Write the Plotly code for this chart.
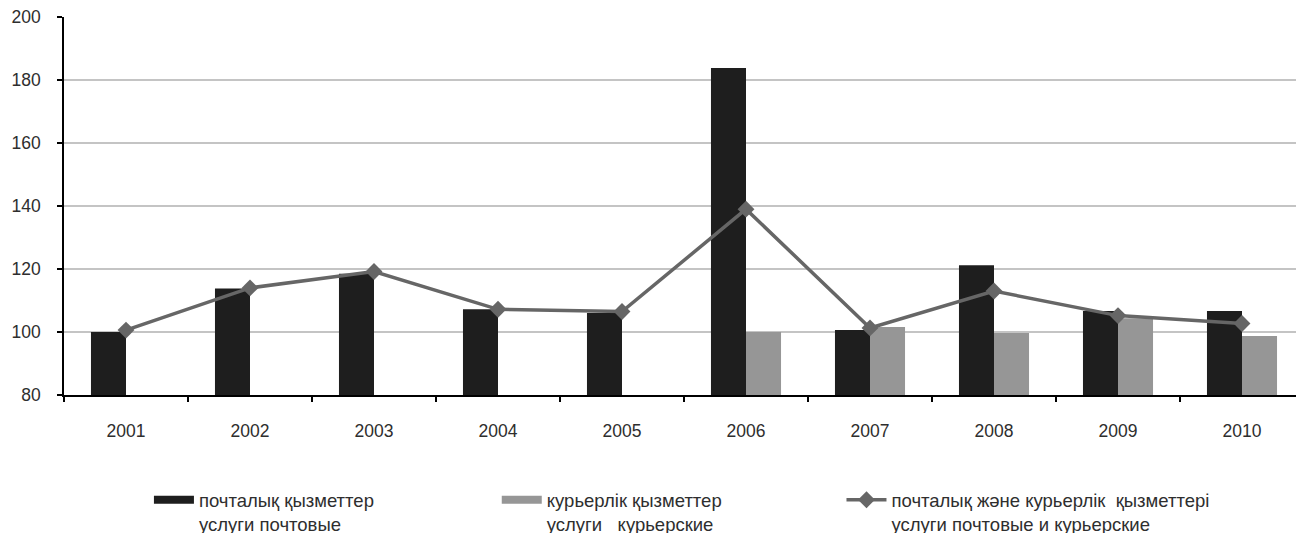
import plotly.graph_objects as go

years = ["2001", "2002", "2003", "2004", "2005", "2006", "2007", "2008", "2009", "2010"]
postal = [100.0, 113.8, 118.5, 107.2, 106.0, 183.8, 100.6, 121.2, 106.7, 106.7]
courier = [None, None, None, None, None, 100.0, 101.6, 99.7, 104.4, 98.7]
combined = [100.6, 114.0, 119.2, 107.2, 106.5, 139.0, 101.3, 113.0, 105.2, 102.7]

names = [
    "почталық қызметтер<br>услуги почтовые",
    "курьерлік қызметтер<br>услуги   курьерские",
    "почталық және курьерлік  қызметтері<br>услуги почтовые и курьерские",
]
colors = ["#1e1e1e", "#969696", "#666666"]

font = "Liberation Sans, Arial, sans-serif"
legend_ids = ["legend", "legend2", "legend3"]

fig = go.Figure()
fig.add_trace(go.Bar(x=years, y=postal, name=names[0], showlegend=False,
                     marker=dict(color=colors[0], line=dict(width=0))))
fig.add_trace(go.Bar(x=years, y=courier, name=names[1], showlegend=False,
                     marker=dict(color=colors[1], line=dict(width=0))))
# legend swatches (wide flat rectangles like the original)
for i in range(2):
    fig.add_trace(go.Scatter(x=[None], y=[None], name=names[i], mode="lines",
                             line=dict(color=colors[i], width=8), legend=legend_ids[i],
                             hoverinfo="skip"))
fig.add_trace(go.Scatter(x=years, y=combined, name=names[2], mode="lines+markers",
                         line=dict(color=colors[2], width=3.5), legend=legend_ids[2],
                         marker=dict(symbol="diamond", size=13, color=colors[2])))

# page body has an 8px default margin: offset the margins to compensate
legend_style = dict(orientation="h", xanchor="left", y=-0.228, yanchor="top",
                    font=dict(family=font, size=18.5, color="#2e2e2e"),
                    valign="top", itemwidth=40, bgcolor="rgba(0,0,0,0)")
fig.update_layout(
    width=1304, height=533,
    margin=dict(l=56, r=8, t=9, b=146, autoexpand=False),
    plot_bgcolor="white", paper_bgcolor="white",
    barmode="group", bargap=0.435, bargroupgap=0,
    font=dict(family=font, size=17.5, color="#2e2e2e"),
    showlegend=True,
    legend=dict(x=0.0685, **legend_style),
    legend2=dict(x=0.349, **legend_style),
    legend3=dict(x=0.627, **legend_style),
)
fig.update_xaxes(type="category", range=[-0.5, 9.5], showline=True, linecolor="#000000",
                 linewidth=1.5, ticks="outside", tickson="boundaries", ticklen=5,
                 tickcolor="#000000", tickwidth=1.5, showgrid=False, ticklabelstandoff=19,
                 ticklabeloverflow="allow", automargin=False)
fig.update_yaxes(range=[80, 200], dtick=20, showline=True, linecolor="#000000", linewidth=1.5,
                 ticks="outside", ticklen=5, tickcolor="#000000", tickwidth=1.5,
                 showgrid=True, gridcolor="#c4c4c4", gridwidth=1.5, zeroline=False,
                 ticklabelstandoff=13, tickfont=dict(size=17.5), ticklabeloverflow="allow",
                 automargin=False)

fig.write_html("out.html")
